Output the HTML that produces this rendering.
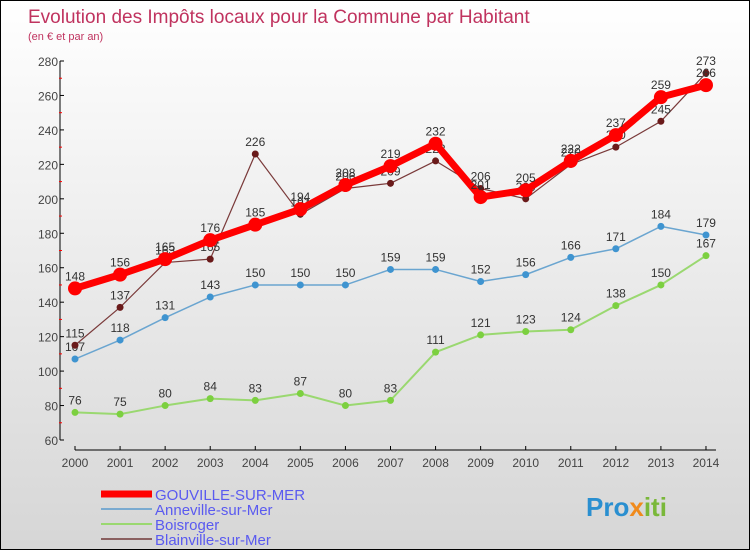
<!DOCTYPE html>
<html><head><meta charset="utf-8"><style>
body{margin:0}
#wrap{width:748px;height:548px;border:1px solid #000;background:linear-gradient(#fff,#d6d6d6);position:relative;overflow:hidden;font-family:"Liberation Sans",sans-serif}
</style></head><body>
<div id="wrap">
<svg id="c" width="748" height="548" xmlns="http://www.w3.org/2000/svg">
<text x="27" y="22" font-size="19" fill="#c0335f">Evolution des Impôts locaux pour la Commune par Habitant</text>
<text x="27" y="39" font-size="11" fill="#c0335f">(en € et par an)</text>
<g id="axes"></g><g id="series"></g><g id="legend"></g>
<text x="585" y="515" font-size="26" font-weight="bold" fill="#2a8fd0">Pro<tspan fill="#f08a1c">x</tspan><tspan fill="#7ab83a">iti</tspan></text>
</svg></div>
<script>
const years=[2000,2001,2002,2003,2004,2005,2006,2007,2008,2009,2010,2011,2012,2013,2014];
const yTicks=[60,80,100,120,140,160,180,200,220,240,260,280];
const gouville=[148,156,165,176,185,194,208,219,232,201,205,222,237,259,266];
const anneville=[107,118,131,143,150,150,150,159,159,152,156,166,171,184,179];
const boisroger=[76,75,80,84,83,87,80,83,111,121,123,124,138,150,167];
const blainville=[115,137,163,165,226,191,206,209,222,206,200,220,230,245,273];
const NS="http://www.w3.org/2000/svg";
const X=i=>74+i*45.07, Y=v=>439-(v-60)*379/220;
function mk(tag,attrs,parent){const e=document.createElementNS(NS,tag);for(const k in attrs)e.setAttribute(k,attrs[k]);parent.appendChild(e);return e;}
const ax=document.getElementById('axes');
let a=mk('line',{x1:59,y1:Y(280),x2:59,y2:Y(60),stroke:'#000'},ax);


a=mk('line',{x1:X(0),y1:449,x2:X(14)+10,y2:449,stroke:'#000'},ax);


yTicks.forEach(v=>{
 mk('line',{x1:59,y1:Y(v),x2:63,y2:Y(v),stroke:'#000'},ax);
 if(v<280) mk('line',{x1:58,y1:Y(v+10),x2:61,y2:Y(v+10),stroke:'#f00'},ax);
 const t=mk('text',{x:57,y:Y(v)+5,'font-size':12,fill:'#444','text-anchor':'end'},ax);t.textContent=v;
 
 
});
years.forEach((y,i)=>{
 mk('line',{x1:X(i),y1:445,x2:X(i),y2:449,stroke:'#000'},ax);
 const t=mk('text',{x:X(i),y:466,'font-size':12,fill:'#444','text-anchor':'middle'},ax);t.textContent=y;
 
 
});
const sg=document.getElementById('series');
function series(vals,color,w,r,dot,name){
 const g=mk('g',{},sg);
 
 
 mk('polyline',{points:vals.map((v,i)=>X(i)+','+Y(v)).join(' '),fill:'none',stroke:color,'stroke-width':w,'stroke-linejoin':'round'},g);
 vals.forEach((v,i)=>{
  const c=mk('circle',{cx:X(i),cy:Y(v),r:r,fill:dot},g);
  
  
  const t=mk('text',{x:X(i),y:Y(v)-8,'font-size':12,fill:'#333','text-anchor':'middle'},g);t.textContent=v;
  
  
 });
}
series(boisroger,'#9ad870',2,3.5,'#7cd040','boisroger-series');
series(anneville,'#6aa5d0',1.5,3.5,'#3f94d0','anneville-series');
series(blainville,'#7a3a3a',1.2,3.5,'#6a1a1a','blainville-series');
series(gouville,'#f00',7,7,'#f00','gouville-series');
const lg=document.getElementById('legend');
[['GOUVILLE-SUR-MER','#f00',7,15],['Anneville-sur-Mer','#7aaad0',2,30],['Boisroger','#9ad870',2,45],['Blainville-sur-Mer','#8a6060',2,60]].forEach(([n,c,w,dy])=>{
 const g=mk('g',{},lg);
 
 
 mk('line',{x1:100,y1:478+dy,x2:151,y2:478+dy,stroke:c,'stroke-width':w},g);
 const t=mk('text',{x:154,y:484+dy,'font-size':15,fill:'#5a5af0'},g);t.textContent=n;
});
</script>
</body></html>
